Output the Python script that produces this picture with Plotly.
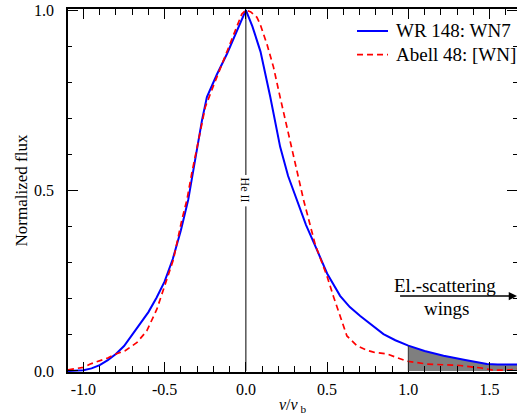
import plotly.graph_objects as go

# WR 148: WN7 (blue, solid)
wr_v = [-1.095, -1.03, -1.0, -0.95, -0.9, -0.85, -0.8, -0.75, -0.7, -0.65, -0.6, -0.55,
        -0.5, -0.45, -0.4, -0.355, -0.3, -0.27, -0.24, -0.18, -0.116, -0.06, 0.0, 0.04,
        0.09, 0.15, 0.211, 0.26, 0.314, 0.37, 0.437, 0.5, 0.58, 0.64, 0.704, 0.78, 0.847,
        0.92, 1.0, 1.1, 1.217, 1.35, 1.484, 1.55, 1.675]
wr_f = [0.0, 0.0, 0.002, 0.007, 0.016, 0.03, 0.047, 0.069, 0.1, 0.13, 0.163, 0.203,
        0.248, 0.31, 0.39, 0.474, 0.62, 0.695, 0.759, 0.82, 0.879, 0.935, 1.0, 0.955,
        0.885, 0.76, 0.621, 0.54, 0.474, 0.405, 0.336, 0.27, 0.208, 0.177, 0.152, 0.125, 0.102,
        0.085, 0.07, 0.055, 0.042, 0.03, 0.019, 0.018, 0.018]

# Abell 48: [WN] (red, dashed)
ab_v = [-1.095, -1.06, -1.0, -0.958, -0.897, -0.85, -0.805, -0.743, -0.67, -0.61, -0.548,
        -0.497, -0.446, -0.394, -0.363, -0.333, -0.29, -0.25, -0.2, -0.158, -0.115, -0.076,
        -0.025, 0.0, 0.03, 0.068, 0.088, 0.13, 0.17, 0.21, 0.252, 0.3, 0.355, 0.427, 0.499,
        0.54, 0.58, 0.622, 0.683, 0.74, 0.786, 0.868, 0.93, 0.991, 1.115, 1.32, 1.45, 1.525,
        1.6, 1.675]
ab_f = [0.003, 0.005, 0.01, 0.019, 0.028, 0.036, 0.046, 0.056, 0.079, 0.111, 0.171,
        0.24, 0.309, 0.419, 0.474, 0.548, 0.645, 0.731, 0.79, 0.837, 0.885, 0.934,
        0.989, 1.0, 0.995, 0.98, 0.961, 0.905, 0.842, 0.76, 0.676, 0.575, 0.474, 0.35, 0.263,
        0.205, 0.152, 0.097, 0.07, 0.058, 0.052, 0.047, 0.037, 0.027, 0.019, 0.015, 0.008, 0.002,
        0.002, 0.005]

series_names = ["WR 148: WN7", "Abell 48: [WN]"]
series_colors = ["#0000ff", "#ff0000"]
series_dash = ["solid", "6px,4px"]
series_width = [2, 1.7]

wing_start = 1.0
x_ticks = [-1.0, -0.5, 0.0, 0.5, 1.0, 1.5]
y_ticks = [0.0, 0.5, 1.0]

wing_v = [v for v in wr_v if v >= wing_start]
wing_f = [f for v, f in zip(wr_v, wr_f) if v >= wing_start]

FONT = "Liberation Serif, Times New Roman, serif"

fig = go.Figure()
fig.add_trace(go.Scatter(x=wing_v, y=wing_f, fill="tozeroy", fillcolor="#7f7f7f",
                         line=dict(width=0), mode="lines", showlegend=False, hoverinfo="skip"))
for xs, ys, nm, col, dsh, lw in zip([wr_v, ab_v], [wr_f, ab_f], series_names,
                                    series_colors, series_dash, series_width):
    fig.add_trace(go.Scatter(x=xs, y=ys, mode="lines", name=nm, showlegend=False,
                             line=dict(color=col, width=lw, dash=dsh)))
# invisible trace to draw right-hand ticks
fig.add_trace(go.Scatter(x=[wr_v[0]], y=[wr_f[0]], yaxis="y2", mode="lines",
                         line=dict(width=0), showlegend=False, hoverinfo="skip"))

# legend drawn by hand (paper coordinates)
leg_x0, leg_x1, leg_tx = 0.6437, 0.7127, 0.7261
leg_rows = [0.9394, 0.8744]
for nm, col, dsh, lw, yy in zip(series_names, series_colors, series_dash, series_width, leg_rows):
    fig.add_shape(type="line", xref="paper", yref="paper", x0=leg_x0, x1=leg_x1, y0=yy, y1=yy,
                  line=dict(color=col, width=lw, dash=dsh))
    fig.add_annotation(xref="paper", yref="paper", x=leg_tx, y=yy, text=nm, showarrow=False,
                       xanchor="left", yanchor="middle",
                       font=dict(family=FONT, size=19, color="black"))

# edge of the shaded wing
fig.add_shape(type="line", x0=wing_start, x1=wing_start, y0=0, y1=wing_f[0],
              line=dict(color="#333333", width=1))
# He II marker line at v=0 (gap for label)
fig.add_shape(type="line", x0=0, x1=0, y0=0.543, y1=1.0, line=dict(color="black", width=1))
fig.add_shape(type="line", x0=0, x1=0, y0=0.0, y1=0.456, line=dict(color="black", width=1))
fig.add_annotation(x=0, y=0.5, text="He II", textangle=90, showarrow=False,
                   font=dict(family=FONT, size=12, color="black"))

# electron scattering arrow
fig.add_annotation(x=1.669, y=0.2075, ax=0.94, ay=0.2075, xref="x", yref="y",
                   axref="x", ayref="y", text="", showarrow=True, arrowhead=2,
                   arrowsize=1.1, arrowwidth=1.5, arrowcolor="black")
fig.add_annotation(x=1.227, y=0.236, text="El.-scattering", showarrow=False,
                   font=dict(family=FONT, size=19, color="black"))
fig.add_annotation(x=1.232, y=0.172, text="wings", showarrow=False,
                   font=dict(family=FONT, size=19, color="black"))

fig.update_layout(
    width=517, height=415,
    margin=dict(l=68, r=0, t=9, b=43),
    plot_bgcolor="white", paper_bgcolor="white",
    font=dict(family=FONT, size=16, color="black"),
    showlegend=False,
    xaxis=dict(range=[-1.095, 1.669], tickvals=x_ticks, ticktext=[f"{t:.1f}" for t in x_ticks],
               ticks="inside", ticklen=10, tickwidth=1, tickcolor="black",
               showline=True, linecolor="black", linewidth=1.5, mirror="ticks",
               showgrid=False, zeroline=False,
               minor=dict(dtick=0.1, tick0=0, ticks="inside", ticklen=6, tickwidth=1, tickcolor="black"),
               ticklabelstandoff=2,
               title=dict(text="<i>v</i>/<i>v</i><sub> b</sub>", standoff=7,
                          font=dict(family=FONT, size=16))),
    yaxis=dict(range=[-0.003, 1.003], tickvals=y_ticks, ticktext=[f"{t:.1f}" for t in y_ticks],
               ticks="inside", ticklen=10, tickwidth=1, tickcolor="black",
               showline=True, linecolor="black", linewidth=1.5,
               showgrid=False, zeroline=False,
               minor=dict(dtick=0.1, tick0=0, ticks="inside", ticklen=4.5, tickwidth=1, tickcolor="black"),
               ticklabelstandoff=9,
               title=dict(text="Normalized flux", standoff=2, font=dict(family=FONT, size=17))),
    yaxis2=dict(overlaying="y", side="right", matches="y", range=[-0.003, 1.003],
                tickvals=y_ticks, showticklabels=False,
                ticks="inside", ticklen=10, tickwidth=1, tickcolor="black",
                showline=False, showgrid=False, zeroline=False,
                minor=dict(dtick=0.1, tick0=0, ticks="inside", ticklen=4.5, tickwidth=1, tickcolor="black")),
)

fig.write_html("out.html")
